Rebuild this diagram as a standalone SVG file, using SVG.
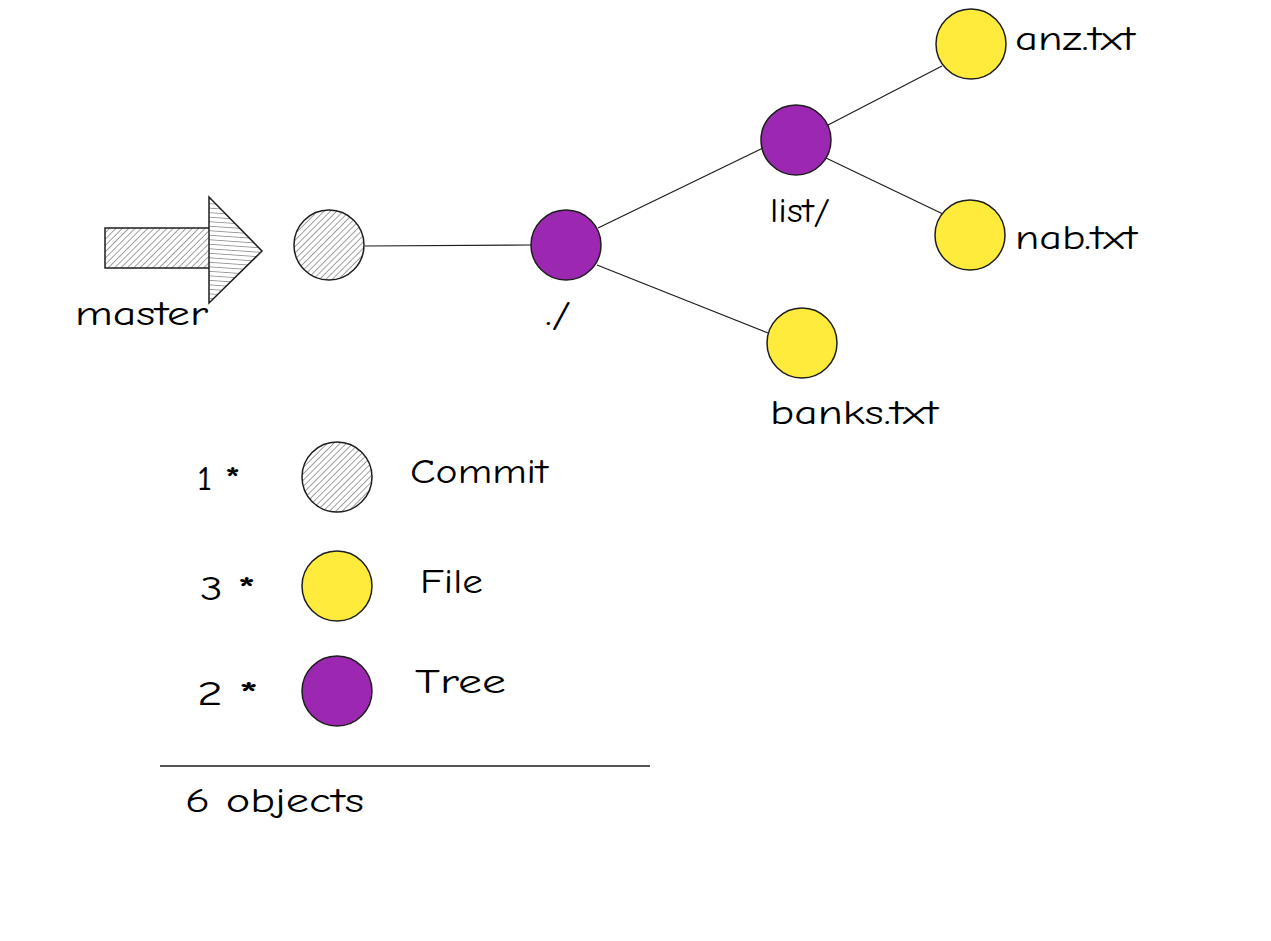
<svg xmlns="http://www.w3.org/2000/svg" width="1271" height="941" viewBox="0 0 1271 941">
<defs>
<pattern id="hatch" patternUnits="userSpaceOnUse" width="4.5" height="4.5" patternTransform="rotate(45)">
<rect width="4.5" height="4.5" fill="#ffffff"/>
<line x1="0" y1="0" x2="0" y2="4.5" stroke="#555" stroke-width="1.1"/>
</pattern>
<pattern id="hatch2" patternUnits="userSpaceOnUse" width="4.5" height="4.5" patternTransform="rotate(-86)">
<rect width="4.5" height="4.5" fill="#ffffff"/>
<line x1="0" y1="0" x2="0" y2="4.5" stroke="#555" stroke-width="1.1"/>
</pattern>
<style>
.t{font-family:"Comic Neue","Liberation Sans",sans-serif;font-size:34px;fill:#000000}
.s{font-weight:bold}
.c{stroke:#1e1e1e;stroke-width:1.5}
.commit{fill:url(#hatch)}
.file{fill:#ffeb3b}
.tree{fill:#9c27b0}
.e{stroke:#1e1e1e;stroke-width:1.2;fill:none}
</style>
</defs>
<rect width="1271" height="941" fill="#ffffff"/>
<g id="master-arrow">
<rect x="105" y="228" width="105" height="40" fill="url(#hatch)" class="c"/>
<polygon points="209,197 262,251 209,303" fill="url(#hatch2)" class="c"/>
<text class="t" x="75" y="325" textLength="133" lengthAdjust="spacingAndGlyphs">master</text>
</g>
<g id="connectors">
<line class="e" x1="365" y1="246" x2="531" y2="245"/>
<line class="e" x1="598" y1="228" x2="763" y2="148"/>
<line class="e" x1="597" y1="265" x2="768" y2="333"/>
<line class="e" x1="828" y1="125" x2="942" y2="66"/>
<line class="e" x1="826" y1="158" x2="945" y2="215"/>
</g>
<g id="commit">
<circle cx="329" cy="245" r="35" class="c commit"/>
</g>
<g id="root-tree">
<circle cx="566" cy="245" r="35" class="c tree"/>
<text class="t" x="545" y="325" textLength="26" lengthAdjust="spacingAndGlyphs">./</text>
</g>
<g id="list-tree">
<circle cx="796" cy="140" r="35" class="c tree"/>
<text class="t" x="770" y="222" textLength="60" lengthAdjust="spacingAndGlyphs">list/</text>
</g>
<g id="anz">
<circle cx="971" cy="44" r="35" class="c file"/>
<text class="t" x="1015" y="50" textLength="120" lengthAdjust="spacingAndGlyphs">anz.txt</text>
</g>
<g id="nab">
<circle cx="970" cy="235" r="35" class="c file"/>
<text class="t" x="1015" y="249" textLength="122" lengthAdjust="spacingAndGlyphs">nab.txt</text>
</g>
<g id="banks">
<circle cx="802" cy="343" r="35" class="c file"/>
<text class="t" x="770" y="424" textLength="168" lengthAdjust="spacingAndGlyphs">banks.txt</text>
</g>
<g id="legend-commit">
<text class="t" x="197" y="490" textLength="43" lengthAdjust="spacingAndGlyphs">1 <tspan class="s">*</tspan></text>
<circle cx="337" cy="477" r="35" class="c commit"/>
<text class="t" x="410" y="483" textLength="138" lengthAdjust="spacingAndGlyphs">Commit</text>
</g>
<g id="legend-file">
<text class="t" x="200" y="600" textLength="55" lengthAdjust="spacingAndGlyphs">3 <tspan class="s">*</tspan></text>
<circle cx="337" cy="586" r="35" class="c file"/>
<text class="t" x="420" y="593" textLength="63" lengthAdjust="spacingAndGlyphs">File</text>
</g>
<g id="legend-tree">
<text class="t" x="197" y="705" textLength="61" lengthAdjust="spacingAndGlyphs">2 <tspan class="s">*</tspan></text>
<circle cx="337" cy="691" r="35" class="c tree"/>
<text class="t" x="415" y="693" textLength="91" lengthAdjust="spacingAndGlyphs">Tree</text>
</g>
<g id="total">
<line x1="160" y1="766" x2="650" y2="766" stroke="#1e1e1e" stroke-width="1.5"/>
<text class="t" x="185" y="812" textLength="179" lengthAdjust="spacingAndGlyphs">6 objects</text>
</g>
</svg>
